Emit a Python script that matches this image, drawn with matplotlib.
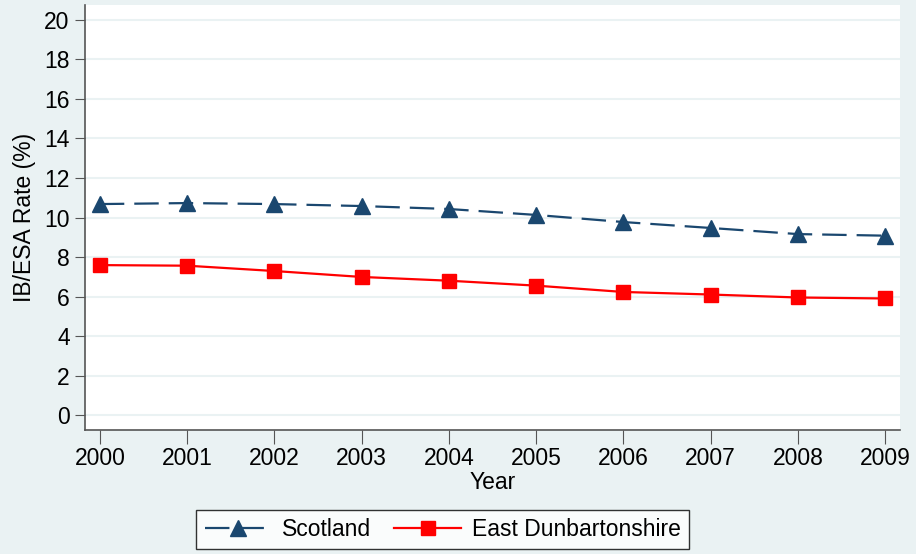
import matplotlib.pyplot as plt

plt.rcParams['font.family'] = ['Liberation Sans', 'DejaVu Sans']

years = [2000, 2001, 2002, 2003, 2004, 2005, 2006, 2007, 2008, 2009]
scotland = [10.68, 10.73, 10.68, 10.58, 10.43, 10.13, 9.77, 9.47, 9.16, 9.08]
east_dunbartonshire = [7.59, 7.56, 7.29, 6.99, 6.80, 6.55, 6.23, 6.10, 5.95, 5.90]

bg = '#EAF2F3'
navy = '#1A476F'
fs = 16.5

fig = plt.figure(figsize=(9.16, 5.54), dpi=100, facecolor=bg)
ax = fig.add_axes([0.0928, 0.2238, 0.8897, 0.7672])
ax.set_facecolor('white')

ax.plot(years, scotland, color=navy, lw=1.6, dashes=(11, 4.5), marker='^',
        markersize=12, label='Scotland')
ax.plot(years, east_dunbartonshire, color='red', lw=1.6, marker='s',
        markersize=10, label='East Dunbartonshire')

ax.set_xlim(1999.83, 2009.17)
ax.set_ylim(-0.76, 20.76)
ax.set_xticks(years)
ax.set_yticks(range(0, 21, 2))
ax.yaxis.grid(True, color=bg, lw=1.5)
ax.set_axisbelow(True)

for s in ['top', 'right']:
    ax.spines[s].set_visible(False)
for s in ['left', 'bottom']:
    ax.spines[s].set_color('#555555')
    ax.spines[s].set_linewidth(1.2)

ax.tick_params(axis='y', length=7, color='#555555', labelsize=fs, pad=4)
ax.tick_params(axis='x', length=10, color='#555555', labelsize=fs, pad=2)

ax.set_ylabel('IB/ESA Rate (%)', fontsize=fs, labelpad=6)
ax.set_xlabel('Year', fontsize=fs, labelpad=1)

leg = fig.legend(loc='center', bbox_to_anchor=(0.4835, 0.0435), ncol=2,
                 fontsize=fs, frameon=True, fancybox=False, edgecolor='black',
                 handlelength=2.9, columnspacing=1.0, numpoints=1,
                 borderpad=0.35, borderaxespad=0, handletextpad=0.5)
leg.get_frame().set_linewidth(1.0)

fig.savefig('out.png', dpi=100, facecolor=bg)
